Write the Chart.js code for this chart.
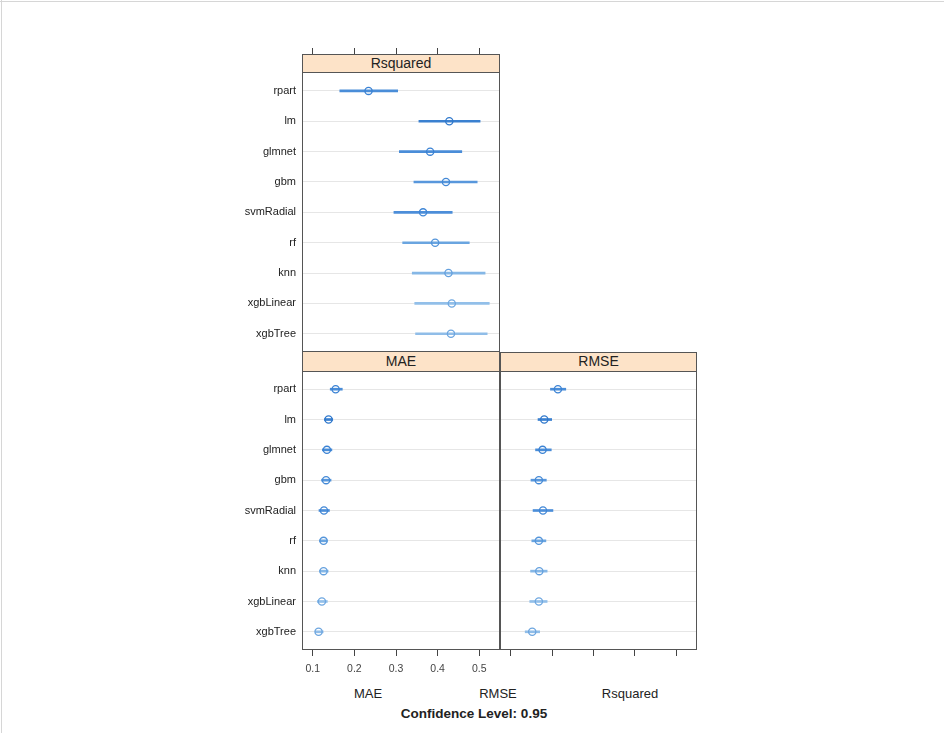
<!DOCTYPE html>
<html>
<head>
<meta charset="utf-8">
<script src="https://cdn.jsdelivr.net/npm/chart.js@4.4.1/dist/chart.umd.min.js"></script>
<style>
  html, body { margin: 0; padding: 0; background: #fff; }
  body { width: 944px; height: 733px; position: relative; overflow: hidden;
         font-family: "Liberation Sans", Arial, sans-serif; }
  .frame-top { position: absolute; left: 0; top: 1px; width: 944px; height: 1px; background: #d6d6d6; }
  .frame-left { position: absolute; left: 1px; top: 0; width: 1px; height: 733px; background: #d6d6d6; }
  canvas { position: absolute; }
  .strip { position: absolute; box-sizing: border-box; background: #fde3c8;
           border: 1px solid #555; color: #222; font-size: 14px; text-align: center; z-index: 2; }
  .lbl { position: absolute; transform: translate(-50%, -50%); white-space: nowrap; color: #222; }
</style>
</head>
<body>
<div class="frame-top"></div>
<div class="frame-left"></div>

<canvas id="cRsq" width="300" height="312" style="left:200px;top:40px;"></canvas>
<canvas id="cMae" width="300" height="309" style="left:200px;top:371px;"></canvas>
<canvas id="cRmse" width="197" height="309" style="left:500px;top:371px;"></canvas>

<div class="strip" style="left:302px;top:54px;width:198px;height:19px;line-height:17px;">Rsquared</div>
<div class="strip" style="left:302px;top:352px;width:198px;height:19px;line-height:18px;border-top:none;border-bottom:none;">MAE</div>
<div class="strip" style="left:500px;top:352px;width:197px;height:19px;line-height:17px;border-bottom:none;">RMSE</div>

<div class="lbl" style="left:368px;top:693px;font-size:13px;">MAE</div>
<div class="lbl" style="left:498px;top:693px;font-size:13px;">RMSE</div>
<div class="lbl" style="left:630px;top:693px;font-size:13px;">Rsquared</div>
<div class="lbl" style="left:474px;top:713px;font-size:13.5px;font-weight:bold;">Confidence Level: 0.95</div>

<script>
// Resampled models, top to bottom
const models = ['rpart', 'lm', 'glmnet', 'gbm', 'svmRadial', 'rf', 'knn', 'xgbLinear', 'xgbTree'];

// Shared x-axis tick values
const tickValues = [0.1, 0.2, 0.3, 0.4, 0.5];

// Rsquared: point estimate and 95% confidence bounds
const rsqMid  = [0.234, 0.428, 0.382, 0.420, 0.365, 0.394, 0.426, 0.434, 0.432];
const rsqLow  = [0.165, 0.355, 0.308, 0.343, 0.295, 0.316, 0.339, 0.345, 0.347];
const rsqHigh = [0.304, 0.502, 0.458, 0.495, 0.435, 0.476, 0.514, 0.524, 0.519];

// MAE
const maeMid  = [0.155, 0.138, 0.134, 0.132, 0.127, 0.126, 0.126, 0.122, 0.114];
const maeLow  = [0.142, 0.128, 0.123, 0.121, 0.115, 0.116, 0.116, 0.111, 0.106];
const maeHigh = [0.171, 0.148, 0.146, 0.144, 0.140, 0.135, 0.137, 0.135, 0.125];

// RMSE
const rmseMid  = [0.214, 0.181, 0.177, 0.168, 0.178, 0.168, 0.169, 0.168, 0.152];
const rmseLow  = [0.196, 0.166, 0.160, 0.149, 0.154, 0.151, 0.148, 0.146, 0.135];
const rmseHigh = [0.233, 0.199, 0.198, 0.186, 0.202, 0.185, 0.188, 0.188, 0.170];

// Row colours for the interval segments and the point symbols
const segColors   = ['#4a8dd8', '#3a80d0', '#4a8dd8', '#5897dc', '#4c8ed9', '#6aa5e0', '#85b7e6', '#92bfe9', '#90bde8'];
const pointColors = ['#3a82d4', '#2f78cc', '#3a82d4', '#4489d6', '#3f86d6', '#5495da', '#64a0de', '#6ea7e0', '#6ca5df'];

const X_MIN = 0.0742, X_MAX = 0.5498;
const FONT = '"Liberation Sans", Arial, sans-serif';

// Panel border drawn around the plotting area
const panelFrame = {
  id: 'panelFrame',
  afterDraw(chart) {
    const a = chart.chartArea, ctx = chart.ctx;
    ctx.save();
    ctx.strokeStyle = '#555';
    ctx.lineWidth = 1;
    ctx.strokeRect(a.left + 0.5, a.top + 0.5, a.right - a.left - 1, a.bottom - a.top - 1);
    ctx.restore();
  }
};

function fixSize(prop, size) {
  return (s) => {
    s[prop] = size;
    s.paddingTop = 0; s.paddingBottom = 0; s.paddingLeft = 0; s.paddingRight = 0;
  };
}

function makePanel(id, mids, lows, highs, cfg) {
  const ctx = document.getElementById(id).getContext('2d');
  return new Chart(ctx, {
    type: 'bar',
    data: {
      datasets: [
        {
          type: 'scatter',
          data: models.map((m, i) => ({ x: mids[i], y: i })),
          pointRadius: 3.6,
          pointBorderWidth: 1.3,
          pointBorderColor: pointColors,
          pointBackgroundColor: 'rgba(0,0,0,0)',
          showLine: false,
          order: 1
        },
        {
          type: 'bar',
          data: models.map((m, i) => ({ x: [lows[i], highs[i]], y: i })),
          backgroundColor: segColors,
          borderWidth: 0,
          barThickness: 2,
          order: 2
        }
      ]
    },
    options: {
      indexAxis: 'y',
      responsive: false,
      animation: false,
      devicePixelRatio: 1,
      layout: { padding: 0, autoPadding: false },
      plugins: { legend: { display: false }, tooltip: { enabled: false } },
      scales: {
        x: {
          type: 'linear',
          position: cfg.xPos,
          min: X_MIN,
          max: X_MAX,
          offset: false,
          afterBuildTicks: (s) => { s.ticks = tickValues.map(v => ({ value: v })); },
          afterFit: fixSize('height', cfg.xHeight),
          grid: { drawOnChartArea: false, drawTicks: true, tickLength: 6, color: '#444', offset: false },
          border: { display: false },
          ticks: {
            display: cfg.xLabels,
            padding: 7,
            color: '#444',
            font: { family: FONT, size: 10.5 },
            callback: (v) => String(v)
          }
        },
        y: {
          type: 'linear',
          reverse: true,
          min: cfg.yMin,
          max: 8.6,
          offset: false,
          afterBuildTicks: (s) => { s.ticks = models.map((m, i) => ({ value: i })); },
          afterFit: fixSize('width', cfg.yWidth),
          grid: { color: '#e6e6e6', drawTicks: false, offset: false },
          border: { display: false },
          ticks: {
            display: cfg.yLabels,
            padding: 6,
            color: '#222',
            font: { family: FONT, size: 11 },
            callback: (v) => models[v]
          }
        }
      }
    },
    plugins: [panelFrame]
  });
}

// Rsquared panel: its strip sits inside the top of the plotting area
makePanel('cRsq', rsqMid, rsqLow, rsqHigh,
  { xPos: 'top', xHeight: 14, xLabels: false, yWidth: 102, yLabels: true, yMin: -1.216 });
makePanel('cMae', maeMid, maeLow, maeHigh,
  { xPos: 'bottom', xHeight: 30, xLabels: true, yWidth: 102, yLabels: true, yMin: -0.6 });
makePanel('cRmse', rmseMid, rmseLow, rmseHigh,
  { xPos: 'bottom', xHeight: 30, xLabels: false, yWidth: 0, yLabels: false, yMin: -0.6 });
</script>
</body>
</html>
